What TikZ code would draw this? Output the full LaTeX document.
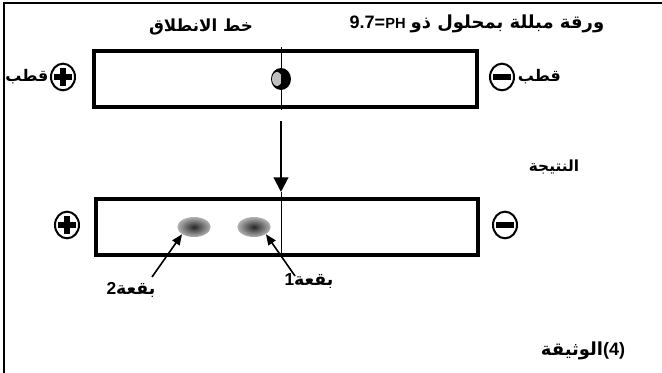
\documentclass[tikz,border=0pt]{standalone}
\usepackage{fontspec}
\setmainfont{Liberation Sans}
\newfontfamily\arabicfont[Script=Arabic]{DejaVu Sans}
\TeXXeTstate=1
\usetikzlibrary{arrows.meta,shapes.geometric,calc}
\newcommand{\arab}[1]{{\arabicfont\beginR #1\endR}}
\newcommand{\fsz}[1]{\fontsize{#1}{#1}\selectfont}
\begin{document}
\begin{tikzpicture}[x=0.75pt,y=-0.75pt,font=\bfseries\fsz{11},
    strip/.style={draw,line width=3pt,minimum width=287pt,minimum height=42pt,inner sep=0pt},
    pole/.style={draw,ellipse,line width=1.5pt,minimum width=18pt,minimum height=20pt,inner sep=0pt},
    spot/.style={ellipse,minimum width=25pt,minimum height=15pt,inner sep=0pt,inner color=black!85,outer color=black!30},
    spotarrow/.style={-{Triangle[length=8pt,width=6.5pt]},line width=1.2pt}]
\useasboundingbox (0,0) rectangle (662,373);
\draw[line width=1.5pt] (4,373) -- (4,3) -- (662,3);
% texts
\node[font=\bfseries\fsz{13.5}] (paper) at (477,24) {9.7={\fsz{11}PH} \arab{ورقة مبللة بمحلول ذو}};
\node[font=\bfseries\fsz{12.5}] (start) at (201,27) {\arab{خط الانطلاق}};
\node[font=\bfseries\fsz{11.5}] (result) at (554,167) {\arab{النتيجة}};
\node[font=\bfseries\fsz{13.5}] (doc) at (583,351) {\arab{الوثيقة}(4)};
% paper before
\node[strip] (before) at (285.5,79) {};
\node[pole] (plusA) at (63,77) {};
\node[pole] (minusA) at (502,77) {};
\node[left,font=\bfseries\fsz{12},inner sep=1pt] (poleA) at (plusA.west) {\arab{قطب}};
\node[right,font=\bfseries\fsz{12},inner sep=2pt] (poleB) at (minusA.east) {\arab{قطب}};
\fill[black] (281,79) ellipse [x radius=10,y radius=11];
\fill[black!25] (277,79) ellipse [x radius=5,y radius=7];
\draw[thin] (281,47) -- (281,110);
% paper after
\node[strip] (after) at (287,227.5) {};
\node[pole] (plusB) at (67,225) {};
\node[pole] (minusB) at (505,225) {};
\foreach \p in {plusA,plusB} {
  \draw[line width=4.5pt] ([xshift=-6.5pt]\p.center) -- ([xshift=6.5pt]\p.center);
  \draw[line width=4.5pt] ([yshift=-7pt]\p.center) -- ([yshift=7pt]\p.center);
}
\foreach \m in {minusA,minusB}
  \draw[line width=4.5pt] ([xshift=-6.5pt]\m.center) -- ([xshift=6.5pt]\m.center);
\coordinate (arrowtop) at (281,121);
\coordinate (arrowtip) at (281,192);
\draw[-{Triangle[length=11pt,width=11pt]},line width=1.5pt] (arrowtop) -- (arrowtip);
\draw[thin] (arrowtip) -- (281,258);
\node[spot] (spot2) at (194,227) {};
\node[spot] (spot1) at (254,227) {};
\node[font=\bfseries\fsz{13}] (lab2) at (131,290) {2\arab{بقعة}};
\node[font=\bfseries\fsz{13}] (lab1) at (309,281) {1\arab{بقعة}};
\draw[spotarrow] ($(lab2.center)+(21,-13)$) -- (spot2.south west);
\draw[spotarrow] ($(lab1.center)+(-14,-5)$) -- (spot1.south east);
\end{tikzpicture}
\end{document}
